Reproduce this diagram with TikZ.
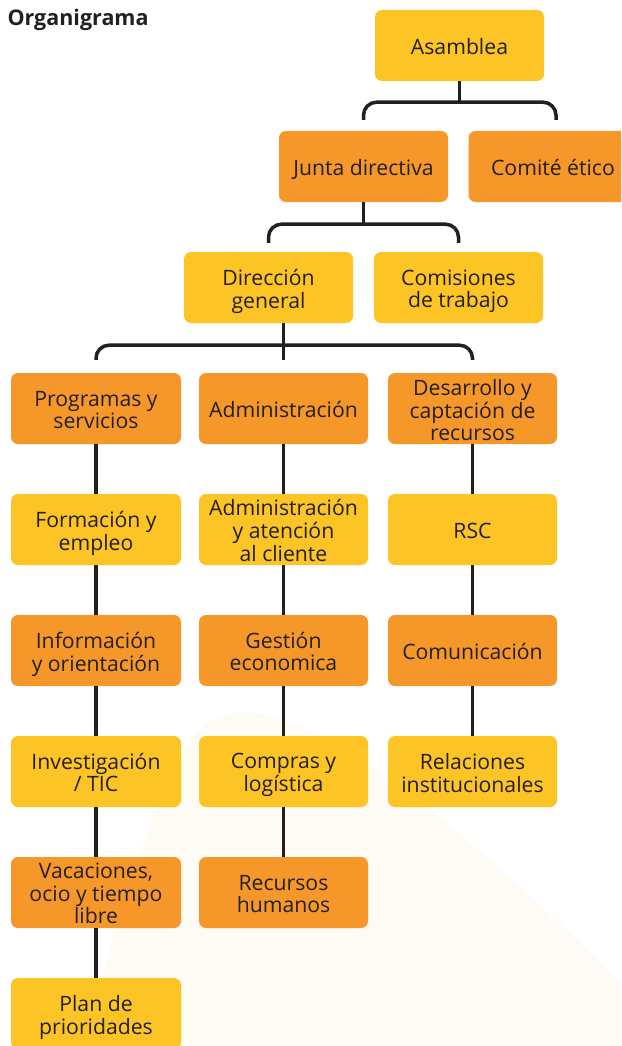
\documentclass[tikz,border=0pt]{standalone}
\usepackage{fontspec}
\setmainfont{Open Sans}
\usetikzlibrary{calc}
\definecolor{yel}{HTML}{FDC425}
\definecolor{ora}{HTML}{F6972A}
\definecolor{txt}{HTML}{231F20}
\definecolor{cream}{HTML}{FEFAF4}
\newsavebox{\btbox}
\newcommand{\bt}[1]{\sbox{\btbox}{\begin{tabular}{@{}c@{}}#1\end{tabular}}\raisebox{-4.5pt}[\ht\btbox][\dp\btbox]{\usebox{\btbox}}}
\tikzset{
  box/.style={rounded corners=7pt, minimum width=169pt, minimum height=71pt,
    inner sep=0pt, align=center, text=txt,
    font=\fontsize{21.2}{22.2}\selectfont},
  ybox/.style={box, fill=yel},
  obox/.style={box, fill=ora},
  wide/.style={minimum width=170pt},
  conn/.style={draw=txt, line width=3.5pt},
  bracket/.style={conn, rounded corners=13pt}
}
\begin{document}
\begin{tikzpicture}[x=1pt,y=-1pt]
\clip (0,0) rectangle (621,1046);
\fill[white] (0,0) rectangle (621,1046);
% faint background shape
\fill[cream] (80,1046) .. controls (140,860) and (170,712) .. (240,712)
  .. controls (330,712) and (500,860) .. (621,985) -- (621,1046) -- cycle;

\node[anchor=base west, text=txt, font=\bfseries\fontsize{21.5}{24}\selectfont] (title) at (4,26) {Organigrama};

% top levels
\node[ybox] (asam) at (459.5,45.5) {\bt{Asamblea}};
\node[obox] (junta) at (363.5,166.5) {\bt{Junta directiva}};
\node[obox] (comite) at (553,166.5) {\bt{Comité ético}};
\node[ybox] (dir) at (268.5,287.5) {\bt{Dirección\\general}};
\node[ybox] (comis) at (458.5,287.5) {\bt{Comisiones\\de trabajo}};

% column 1
\node[obox, wide] (c1a) at (96,408.5) {\bt{Programas y\\servicios}};
\node[ybox, wide] (c1b) at (96,529.5) {\bt{Formación y\\empleo}};
\node[obox, wide] (c1c) at (96,650.5) {\bt{Información\\y orientación}};
\node[ybox, wide] (c1d) at (96,771.5) {\bt{Investigación\\/ TIC}};
\node[obox, wide] (c1e) at (96,892.5) {\bt{Vacaciones,\\ocio y tiempo\\libre}};
\node[ybox, wide] (c1f) at (96,1013.5) {\bt{Plan de\\prioridades}};

% column 2
\node[obox] (c2a) at (283.5,408.5) {\bt{Administración}};
\node[ybox] (c2b) at (283.5,529.5) {\bt{Administración\\y atención\\al cliente}};
\node[obox] (c2c) at (283.5,650.5) {\bt{Gestión\\economica}};
\node[ybox] (c2d) at (283.5,771.5) {\bt{Compras y\\logística}};
\node[obox] (c2e) at (283.5,892.5) {\bt{Recursos\\humanos}};

% column 3
\node[obox] (c3a) at (472.5,408.5) {\bt{Desarrollo y\\captación de\\recursos}};
\node[ybox] (c3b) at (472.5,529.5) {\bt{RSC}};
\node[obox] (c3c) at (472.5,650.5) {\bt{Comunicación}};
\node[ybox] (c3d) at (472.5,771.5) {\bt{Relaciones\\institucionales}};

% bracket junctions
\coordinate (b1) at ($(asam.south)+(0,21)$);
\coordinate (b2) at ($(junta.south)+(0,22)$);
\coordinate (b3) at ($(dir.south -| c2a.north)+(0,22)$);

% connectors
\draw[conn] (asam.south) -- (b1);
\draw[bracket] ([yshift=11pt]junta.north) |- (b1) -| ([xshift=3pt,yshift=11pt]comite.north);
\draw[conn] (junta.south) -- (b2);
\draw[bracket] ([yshift=9pt]dir.north) |- (b2) -| ([yshift=9pt]comis.north);
\draw[conn] (dir.south -| c2a.north) -- ([yshift=13pt]c2a.north);
\draw[bracket] ([yshift=13pt]c1a.north) |- (b3) -| ([yshift=13pt]c3a.north);

\draw[conn] (c1a) -- (c1b) (c1b) -- (c1c) (c1c) -- (c1d) (c1d) -- (c1e) (c1e) -- (c1f);
\draw[conn] (c2a) -- (c2b) (c2b) -- (c2c) (c2c) -- (c2d) (c2d) -- (c2e);
\draw[conn] (c3a) -- (c3b) (c3b) -- (c3c) (c3c) -- (c3d);
\end{tikzpicture}
\end{document}
